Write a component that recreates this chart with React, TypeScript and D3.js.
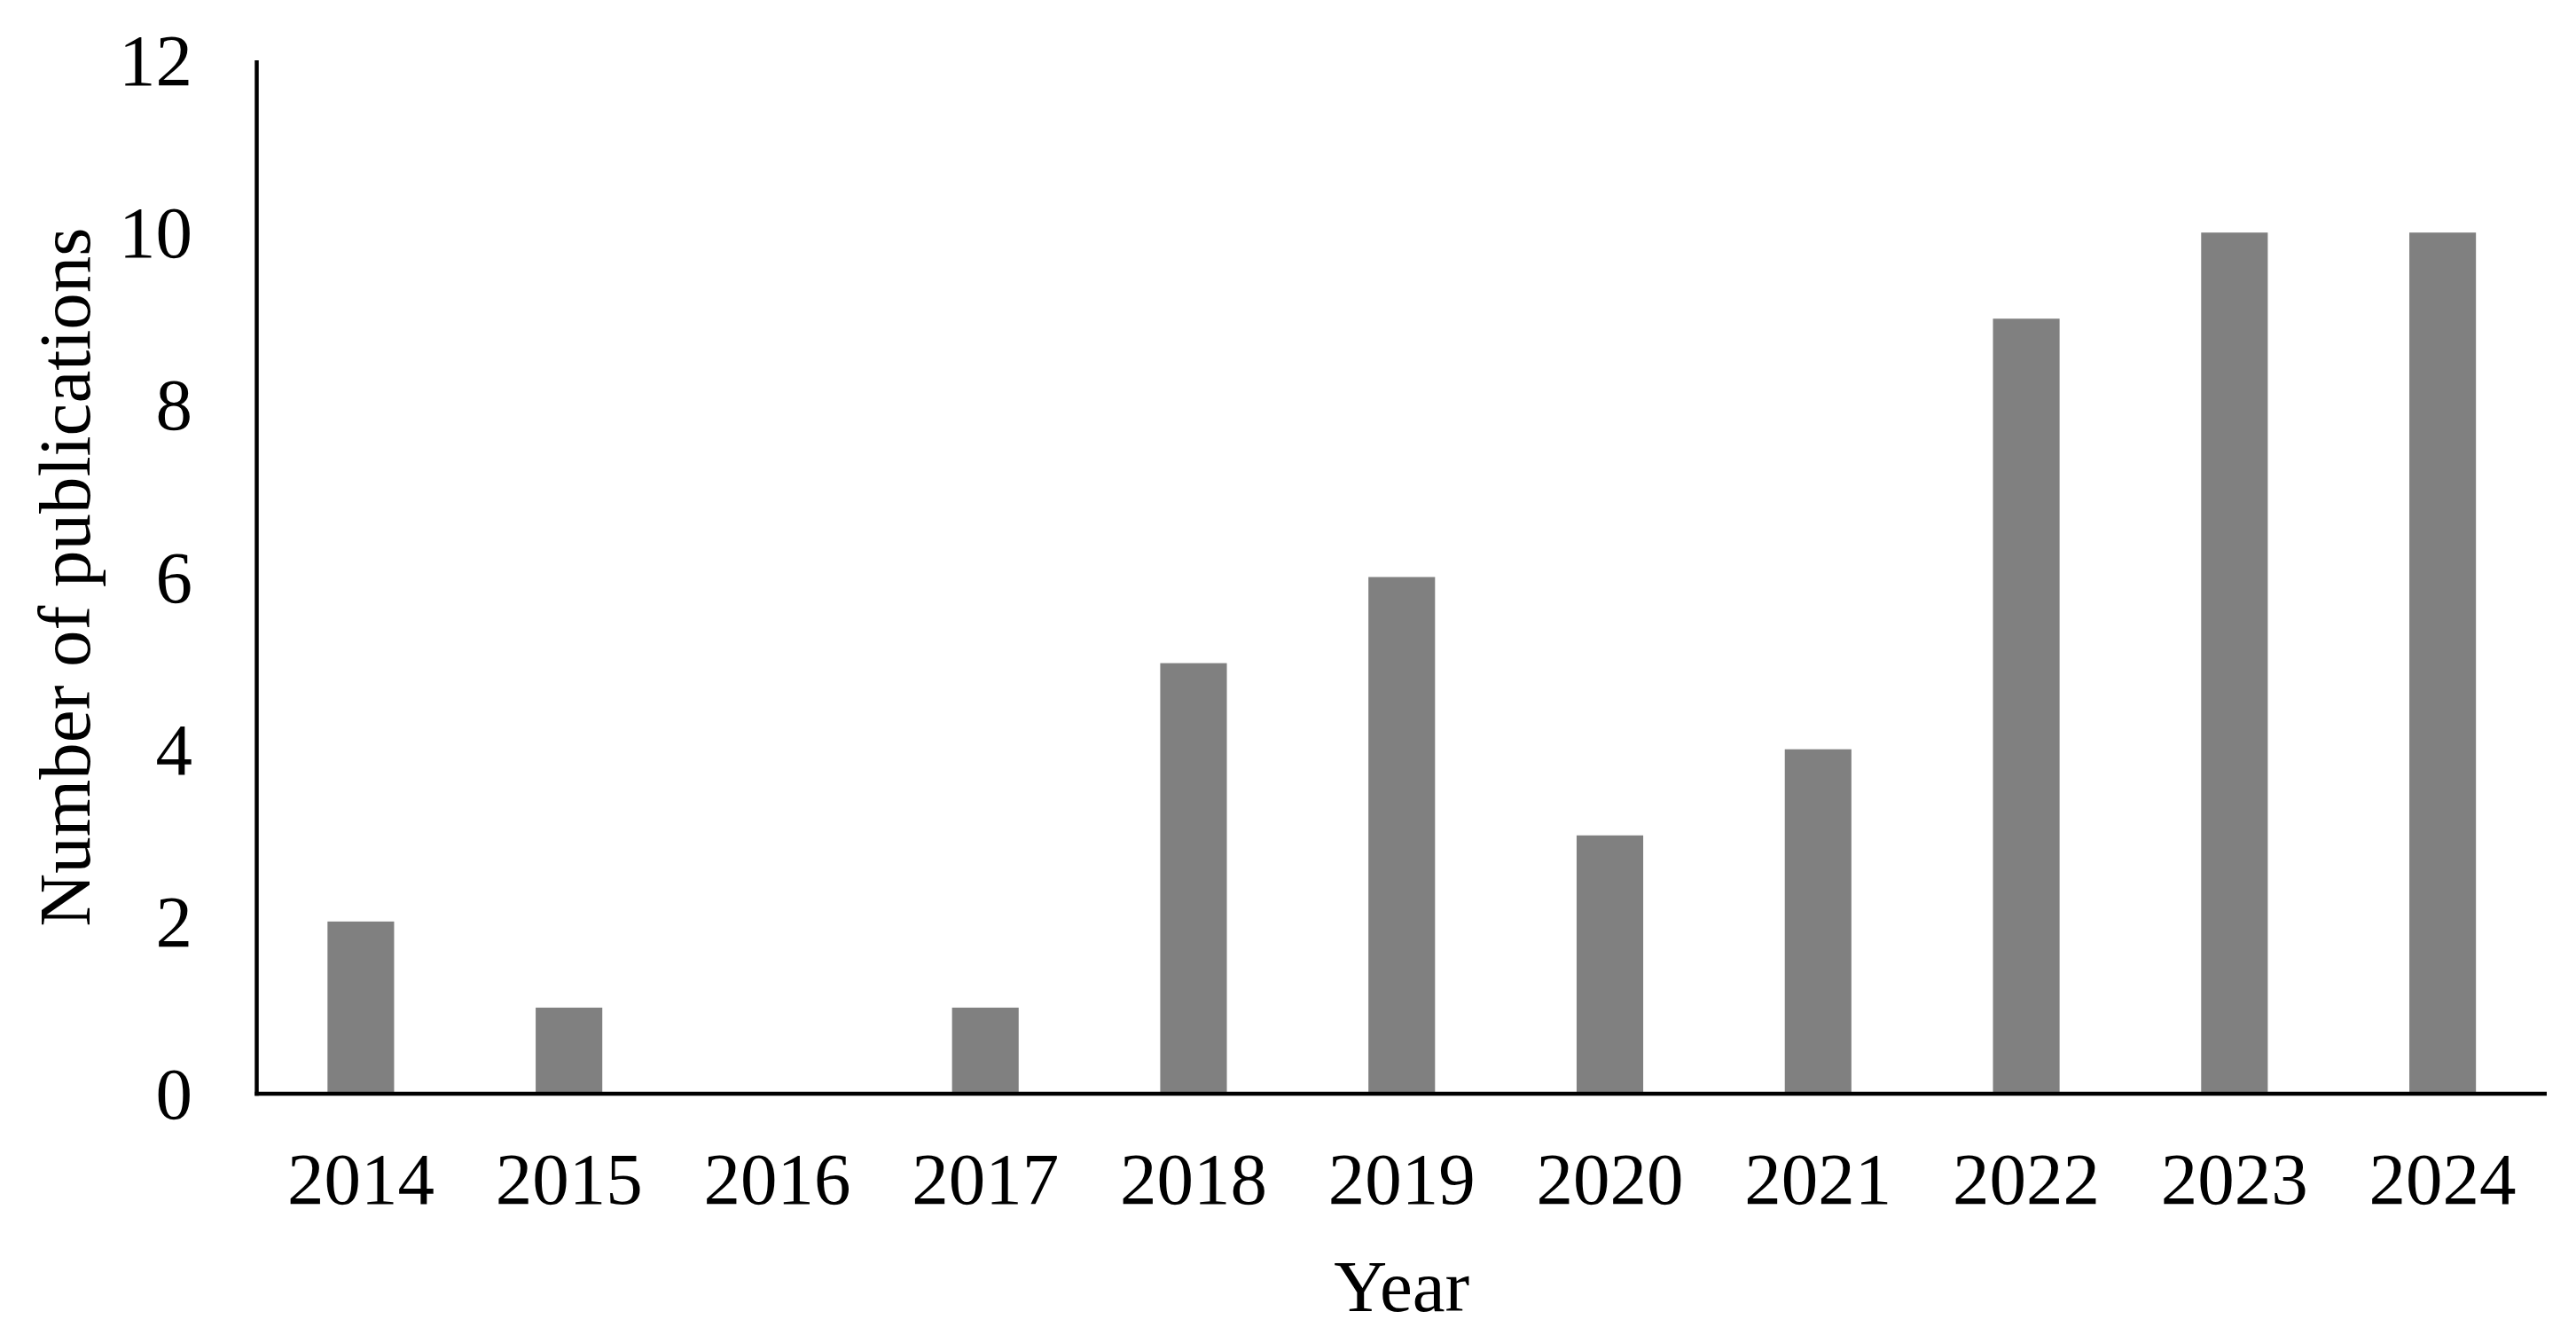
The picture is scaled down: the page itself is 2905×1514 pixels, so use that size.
import React from "react";
import * as d3 from "d3";

const years: string[] = ["2014", "2015", "2016", "2017", "2018", "2019", "2020", "2021", "2022", "2023", "2024"];
const publications: number[] = [2, 1, 0, 1, 5, 6, 3, 4, 9, 10, 10];
const yTicks: number[] = [0, 2, 4, 6, 8, 10, 12];
const xTitle = "Year";
const yTitle = "Number of publications";

const W = 2905;
const H = 1514;
const FONT = "'Liberation Serif', 'Times New Roman', Times, serif";

export default function App() {
  const x = d3
    .scaleBand<string>()
    .domain(years)
    .range([289.5, 2872])
    .paddingInner(0.68)
    .paddingOuter(0.34);
  const y = d3.scaleLinear().domain([0, 12]).range([1233, 68]);
  const fs = 83;

  return (
    <svg
      width={W}
      height={H}
      style={{ position: "absolute", left: 0, top: 0, background: "#fff" }}
      fontFamily={FONT}
    >
      <rect x={0} y={0} width={W} height={H} fill="#fff" />
      {years.map((yr, i) => (
        <rect
          key={yr}
          x={x(yr)}
          y={y(publications[i])}
          width={x.bandwidth()}
          height={y(0) - y(publications[i])}
          fill="#808080"
        />
      ))}
      {/* axes */}
      <line x1={289.5} x2={289.5} y1={y(12)} y2={y(0) + 2.25} stroke="#000" strokeWidth={4.5} />
      <line x1={287.25} x2={2872} y1={y(0)} y2={y(0)} stroke="#000" strokeWidth={4.5} />
      {yTicks.map((t) => (
        <text key={t} x={217} y={y(t) + 28} textAnchor="end" fontSize={fs} fill="#000">
          {t}
        </text>
      ))}
      {years.map((yr) => (
        <text
          key={yr}
          x={(x(yr) as number) + x.bandwidth() / 2}
          y={1357}
          textAnchor="middle"
          fontSize={fs}
          fill="#000"
        >
          {yr}
        </text>
      ))}
      <text x={(289.5 + 2872) / 2} y={1478} textAnchor="middle" fontSize={fs} fill="#000">
        {xTitle}
      </text>
      <text
        transform={`translate(101, ${(y(0) + y(12)) / 2}) rotate(-90)`}
        textAnchor="middle"
        fontSize={fs}
        fill="#000"
      >
        {yTitle}
      </text>
    </svg>
  );
}
